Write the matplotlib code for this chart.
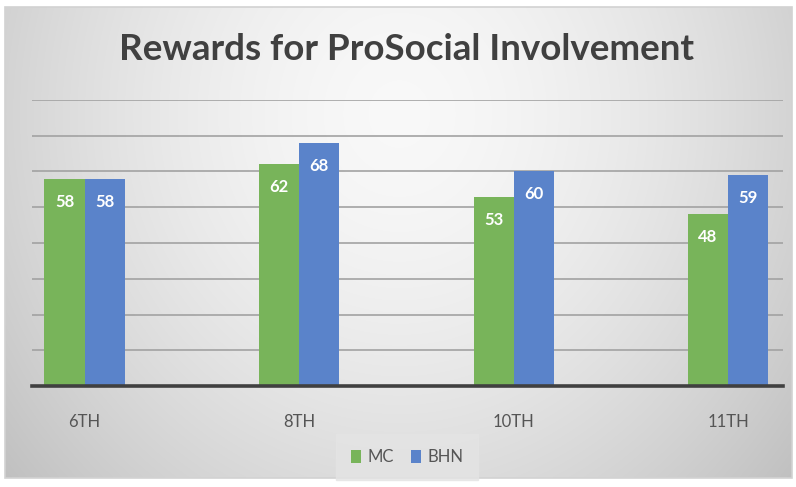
import numpy as np
import matplotlib
matplotlib.use("Agg")
import matplotlib.pyplot as plt
from matplotlib.patches import Rectangle, Patch

categories = ["6TH", "8TH", "10TH", "11TH"]
mc = [58, 62, 53, 48]
bhn = [58, 68, 60, 59]
series_names = ["MC", "BHN"]
title = "Rewards for ProSocial Involvement"

GREEN = "#78b45a"
BLUE = "#5a83ca"
W, H = 796, 487

fig = plt.figure(figsize=(W / 100, H / 100), dpi=100)
fig.patch.set_facecolor("white")

# background frame with radial gradient
fx0, fy0, fx1, fy1 = 5, 7, 792, 478
bg = fig.add_axes([fx0 / W, 1 - fy1 / H, (fx1 - fx0) / W, (fy1 - fy0) / H], zorder=0)
yy, xx = np.mgrid[0:200, 0:400]
cx, cy = 200, 45
r = np.sqrt(((xx - cx) / 230.0) ** 2 + ((yy - cy) / 210.0) ** 2)
val = 0.975 - 0.18 * np.clip(r, 0, 1.6) ** 1.6
img = np.dstack([val, val, val])
bg.imshow(img, aspect="auto", extent=[0, 1, 0, 1], origin="upper", interpolation="bilinear")
bg.set_xlim(0, 1)
bg.set_ylim(0, 1)
bg.axis("off")
fig.add_artist(Rectangle((fx0 / W, 1 - fy1 / H), (fx1 - fx0) / W, (fy1 - fy0) / H,
                         transform=fig.transFigure, fill=False, edgecolor="#d2d2d2",
                         linewidth=1.2, zorder=1))

# main axes
left, right, top, bottom = 32, 783, 100, 386
ax = fig.add_axes([left / W, 1 - bottom / H, (right - left) / W, (bottom - top) / H], zorder=2)
ax.patch.set_alpha(0)
unit = (728 - 84.5) / 3.0
ax.set_xlim((left - 84.5) / unit, (right - 84.5) / unit)
ax.set_ylim(0, 80)
x = np.arange(len(categories))
bw = 40 / unit
b1 = ax.bar(x - bw / 2, mc, width=bw, color=GREEN, zorder=3, label=series_names[0])
b2 = ax.bar(x + bw / 2, bhn, width=bw, color=BLUE, zorder=3, label=series_names[1])

ax.set_yticks(np.arange(10, 81, 10))
ax.yaxis.grid(True, color="#a2a2a2", linewidth=1.2, zorder=1)
ax.set_axisbelow(True)
ax.tick_params(axis="y", left=False, labelleft=False)
ax.tick_params(axis="x", bottom=False, pad=17, labelsize=12, labelcolor="#555555")
ax.set_xticks(x)
ax.set_xticklabels(categories, family="Lato")
for s in ["top", "right", "left"]:
    ax.spines[s].set_visible(False)
ax.spines["bottom"].set_color("#404040")
ax.spines["bottom"].set_linewidth(2.6)
ax.spines["bottom"].set_zorder(4)

for bars, vals in ((b1, mc), (b2, bhn)):
    for rect, v in zip(bars, vals):
        ax.annotate(str(v), (rect.get_x() + rect.get_width() / 2, v),
                    xytext=(0, -23), textcoords="offset pixels", ha="center", va="center",
                    color="white", fontsize=12, fontweight="bold", family="Lato", zorder=5)

fig.text(406 / W, 1 - 50 / H, title, ha="center", va="center", fontsize=26.5,
         fontweight="bold", color="#404040", family="Lato", zorder=3)

handles = [Patch(facecolor=GREEN, label=series_names[0]), Patch(facecolor=BLUE, label=series_names[1])]
leg = fig.legend(handles=handles, loc="center", bbox_to_anchor=(407 / W, 1 - 457 / H),
                 ncol=2, frameon=True, fancybox=False, facecolor="#e4e4e4", edgecolor="#e4e4e4",
                 handlelength=0.6, handleheight=0.8, handletextpad=0.4,
                 columnspacing=1.0, borderpad=0.9, prop={"family": "Lato", "size": 12})
for t in leg.get_texts():
    t.set_color("#555555")
leg.set_zorder(5)

fig.savefig("out.png", dpi=100)
